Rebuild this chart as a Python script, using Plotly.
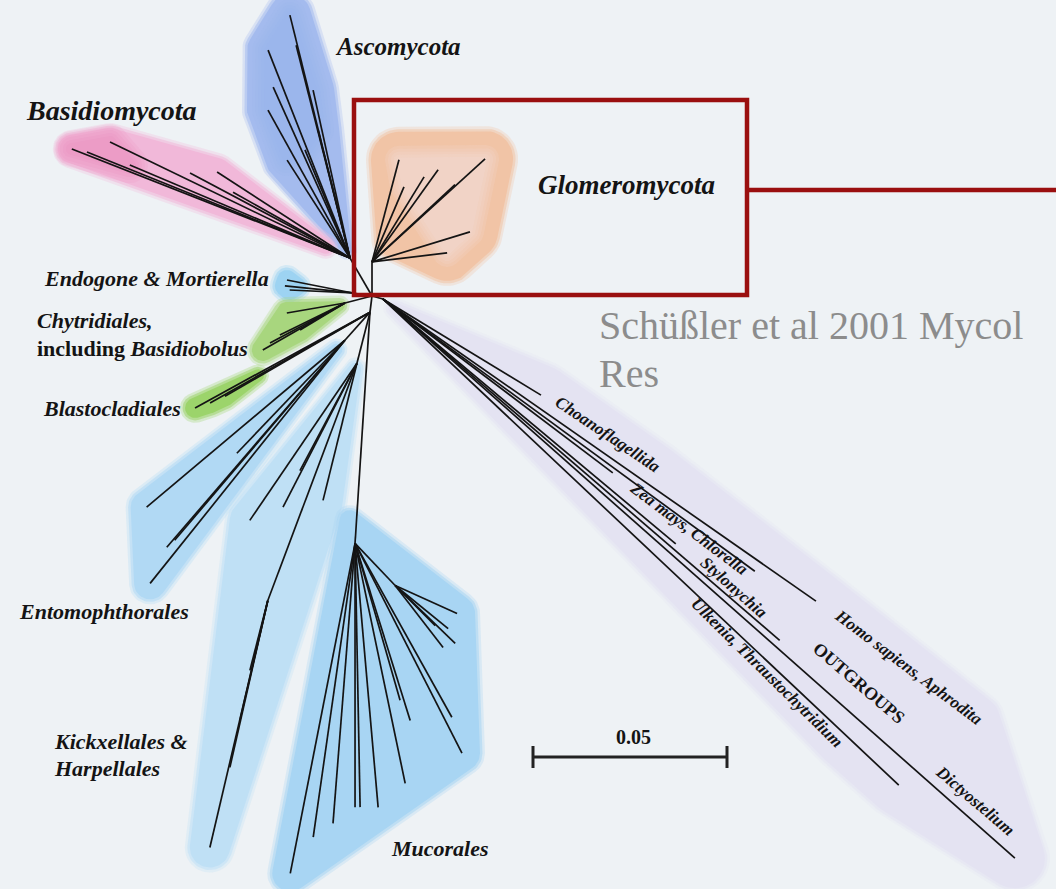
import re
import numpy as np
import plotly.graph_objects as go

# ---------------- data (branch angles in degrees, lengths in substitutions/site) ----------------
SCALE_BAR_VALUE = 0.05
SCALE_BAR_LABEL = "0.05"

NODE_ID = ["hub", "dikarya", "glomero", "endogone", "chytrid", "zygo",
           "entomo", "kickx", "kickx_b", "mucor", "mucor_b", "outgroup"]
NODE_PARENT = [None, "hub", "hub", "hub", "hub", "hub",
               "zygo", "zygo", "kickx", "zygo", "mucor", "hub"]
NODE_ANGLE = [0.0, 120.1, 90.0, 171.0, 194.5, 262.9,
              228.2, 255.7, 249.4, 266.3, 313.6, 344.7]
NODE_LENGTH = [0.0, 0.0113, 0.0088, 0.0050, 0.0072, 0.0042,
               0.0097, 0.0136, 0.0653, 0.0597, 0.0150, 0.0029]

ASCO_ANGLE = [103.9, 104.2, 111.5, 114.2, 119.0, 102.4, 104.0, 112.6, 122.7]
ASCO_LENGTH = [0.0645, 0.0566, 0.0576, 0.0483, 0.0436, 0.0443, 0.0340, 0.0302, 0.0300]

BASI_ANGLE = [158.6, 158.05, 154.2, 157.1, 152.0, 147.1, 150.6]
BASI_LENGTH = [0.0770, 0.0731, 0.0687, 0.0616, 0.0467, 0.0408, 0.0346]

GLOM_ANGLE = [75.2, 66.9, 58.5, 54.3, 42.3, 42.9, 17.0, 6.8]
GLOM_LENGTH = [0.0272, 0.0210, 0.0257, 0.0292, 0.0394, 0.0292, 0.0264, 0.0195]

ENDO_ANGLE = [168.9, 177.3, 174.1]
ENDO_LENGTH = [0.0173, 0.0163, 0.0176]

CHYT_ANGLE = [209.8, 208.1, 189.8, 211.0, 206.2]
CHYT_LENGTH = [0.0244, 0.0219, 0.0152, 0.0135, 0.0187]

BLAS_ANGLE = [208.7, 209.6, 210.1]
BLAS_LENGTH = [0.0514, 0.0474, 0.0432]

ENTO_ANGLE = [220.1, 229.3, 231.3, 226.3, 229.6]
ENTO_LENGTH = [0.0668, 0.0704, 0.0803, 0.0403, 0.0677]

KICK_ANGLE = [235.7, 242.8, 256.1, 242.0]
KICK_LENGTH = [0.0490, 0.0417, 0.0364, 0.0313]
KICK2_ANGLE = [256.8, 257.2, 256.9, 255.6]
KICK2_LENGTH = [0.0654, 0.0441, 0.0318, 0.0186]

MUCO_ANGLE = [258.9, 261.9, 265.5, 270.0, 271.1, 275.0, 281.8, 287.3, 286.0, 299.1, 297.0]
MUCO_LENGTH = [0.0867, 0.0765, 0.0724, 0.0680, 0.0680, 0.0683, 0.0632, 0.0478, 0.0421, 0.0513, 0.0607]
MUCO2_ANGLE = [335.7, 316.0, 307.7, 320.9, 315.0]
MUCO2_LENGTH = [0.0175, 0.0215, 0.0202, 0.0176, 0.0146]

OUTG_ANGLE = [328.7, 322.9, 320.1, 323.8, 325.1, 319.3, 316.7, 318.5]
OUTG_LENGTH = [0.0477, 0.0743, 0.0984, 0.1188, 0.1361, 0.1349, 0.1827, 0.2175]

TIP_GROUPS = {
    "asco": ("dikarya", ASCO_ANGLE, ASCO_LENGTH),
    "basi": ("dikarya", BASI_ANGLE, BASI_LENGTH),
    "glom": ("glomero", GLOM_ANGLE, GLOM_LENGTH),
    "endo": ("endogone", ENDO_ANGLE, ENDO_LENGTH),
    "chyt": ("chytrid", CHYT_ANGLE, CHYT_LENGTH),
    "blas": ("zygo", BLAS_ANGLE, BLAS_LENGTH),
    "ento": ("entomo", ENTO_ANGLE, ENTO_LENGTH),
    "kick": ("kickx", KICK_ANGLE, KICK_LENGTH),
    "kick2": ("kickx_b", KICK2_ANGLE, KICK2_LENGTH),
    "muco": ("mucor", MUCO_ANGLE, MUCO_LENGTH),
    "muco2": ("mucor_b", MUCO2_ANGLE, MUCO2_LENGTH),
    "outg": ("outgroup", OUTG_ANGLE, OUTG_LENGTH),
}

# ---------------- layout / style ----------------
W, H = 1056, 889
BG = "#eef2f5"
PX_PER_UNIT = 194 / SCALE_BAR_VALUE
HUB = np.array([372.0, 296.0])
SERIF = "Liberation Serif"
INK = "#141414"


def step(p, ang, ln):
    a = np.radians(ang)
    return p + ln * PX_PER_UNIT * np.array([np.cos(a), -np.sin(a)])


pos = {}
for nid, par, ang, ln in zip(NODE_ID, NODE_PARENT, NODE_ANGLE, NODE_LENGTH):
    pos[nid] = HUB.copy() if par is None else step(pos[par], ang, ln)

tips = {}
tip_len = {}
for g, (node, angs, lens) in TIP_GROUPS.items():
    tips[g] = [step(pos[node], a, l) for a, l in zip(angs, lens)]
    tip_len[g] = list(lens)


def convex_hull(points):
    pts = sorted(set((round(p[0], 3), round(p[1], 3)) for p in points))

    def cross(o, a, b):
        return (a[0] - o[0]) * (b[1] - o[1]) - (a[1] - o[1]) * (b[0] - o[0])

    lower, upper = [], []
    for p in pts:
        while len(lower) >= 2 and cross(lower[-2], lower[-1], p) <= 0:
            lower.pop()
        lower.append(p)
    for p in reversed(pts):
        while len(upper) >= 2 and cross(upper[-2], upper[-1], p) <= 0:
            upper.pop()
        upper.append(p)
    h = lower[:-1] + upper[:-1]
    return h + [h[0]]


def circle_pts(c, r, n=60):
    t = np.linspace(0, 2 * np.pi, n, endpoint=False)
    return [(c[0] + r * np.cos(a), c[1] + r * np.sin(a)) for a in t]


OUT_LABELS = [
    ("<b><i>Choanoflagellida</i></b>", 608, 434, 17, 34),
    ("<b><i>Zea mays, Chlorella</i></b>", 689, 528, 17, 37),
    ("<b><i>Stylonychia</i></b>", 734, 587, 17, 41.6),
    ("<b><i>Ulkenia, Thraustochytridium</i></b>", 767, 672, 17, 44.5),
    ("<b><i>Homo sapiens, Aphrodita</i></b>", 909, 667, 17, 37),
    ("<b>OUTGROUPS</b>", 859, 683, 18, 40.6),
    ("<b><i>Dictyostelium</i></b>", 975, 800, 17, 40.5),
]


def label_ends(lbls):
    pts = []
    for txt, x, y, s, ang in lbls:
        n = len(re.sub("<[^>]+>", "", txt))
        half = 0.22 * s * n
        a = np.radians(ang)
        d = np.array([np.cos(a), np.sin(a)])
        pts.append(np.array([x, y]) + half * d)
    return pts


# blobs: (groups, start node, start fraction, start radius, tip radius, color, extra points)
BLOBS = [
    (["outg"], "outgroup", 0.03, 6, 30, "#e4e3f2", label_ends(OUT_LABELS)),
    (["asco"], "dikarya", 0.05, 5, 21, "#a4bbee", []),
    (["basi"], "dikarya", 0.12, 7, 14, "#f1b8d9", []),
    (["glom"], "glomero", 0.30, 16, 28, "#f1c4a6", []),
    (["endo"], "endogone", 0.85, 9, 10, "#9dd3f2", []),
    (["chyt"], "chytrid", 0.08, 5, 11, "#a8d67e", []),
    (["blas"], "zygo", 0.70, 6, 10, "#9cd46b", []),
    (["ento"], "entomo", 0.05, 6, 16, "#b1d9f4", []),
    (["kick", "kick2"], "kickx", 0.02, 6, 20, "#bfe0f5", []),
    (["muco", "muco2"], "mucor", -0.12, 10, 18, "#a8d5f3", []),
]

# soft shading accents (groups, min tip length, radius, color, alpha)
ACCENTS = [
    (["basi"], 0.060, 6, "#ea86b8", 0.7),
    (["glom"], 0.0, 2, "#f4dede", 0.8),
    (["asco"], 0.0, 4, "#97afe8", 0.5),
]


def hex_rgba(h, a):
    h = h.lstrip("#")
    return "rgba(%d,%d,%d,%.3f)" % (int(h[0:2], 16), int(h[2:4], 16), int(h[4:6], 16), a)


def add_poly(fig, h, color):
    fig.add_trace(go.Scatter(x=[q[0] for q in h], y=[q[1] for q in h], mode="lines",
                             fill="toself", fillcolor=color, line=dict(width=0),
                             hoverinfo="skip", showlegend=False))


fig = go.Figure()

for groups, node, t, r0, r1, col, extra in BLOBS:
    tp = [p for g in groups for p in tips[g]]
    mean = np.mean(tp, axis=0)
    s = pos[node] + t * (mean - pos[node])
    for grow, alpha in [(5, 0.3), (2.5, 0.55), (0, 1.0)]:
        pts = circle_pts(s, r0 + grow)
        for p in tp:
            pts += circle_pts(p, r1 + grow)
        for p in extra:
            pts += circle_pts(p, 22 + grow)
        add_poly(fig, convex_hull(pts), hex_rgba(col, alpha))

for groups, lmin, r, col, alpha in ACCENTS:
    tp = [p for g in groups for p, l in zip(tips[g], tip_len[g]) if l >= lmin]
    for k in range(5):
        pts = []
        for p in tp:
            pts += circle_pts(p, r + 3 * k)
        add_poly(fig, convex_hull(pts), hex_rgba(col, alpha / 5))

# tree branches
xs, ys = [], []
for nid, par in zip(NODE_ID, NODE_PARENT):
    if par is None:
        continue
    xs += [pos[par][0], pos[nid][0], None]
    ys += [pos[par][1], pos[nid][1], None]
for g, (node, _, _) in TIP_GROUPS.items():
    for p in tips[g]:
        xs += [pos[node][0], p[0], None]
        ys += [pos[node][1], p[1], None]
fig.add_trace(go.Scatter(x=xs, y=ys, mode="lines", line=dict(color=INK, width=1.7),
                         hoverinfo="skip", showlegend=False))

# scale bar
sb_x0, sb_y = 533, 757
sb_x1 = sb_x0 + SCALE_BAR_VALUE * PX_PER_UNIT
fig.add_trace(go.Scatter(x=[sb_x0, sb_x1, None, sb_x0, sb_x0, None, sb_x1, sb_x1],
                         y=[sb_y, sb_y, None, sb_y - 11, sb_y + 11, None, sb_y - 11, sb_y + 11],
                         mode="lines", line=dict(color="#222", width=3),
                         hoverinfo="skip", showlegend=False))

ann = []


def add_label(text, x, y, size, xanchor="left", angle=0, color=INK, family=SERIF):
    ann.append(dict(x=x, y=y, xref="x", yref="y", text=text, showarrow=False,
                    xanchor=xanchor, yanchor="middle", textangle=angle,
                    font=dict(family=family, size=size, color=color)))


add_label("<b><i>Ascomycota</i></b>", 333, 46, 25)
add_label("<b><i>Basidiomycota</i></b>", 24, 110, 28)
add_label("<b><i>Glomeromycota</i></b>", 536, 185, 27)
add_label("<b><i>Endogone &amp; Mortierella</i></b>", 42, 278, 22)
add_label("<b><i>Chytridiales,</i></b>", 35, 320, 22)
add_label("<b>including <i>Basidiobolus</i></b>", 35, 348, 22)
add_label("<b><i>Blastocladiales</i></b>", 41, 408, 22)
add_label("<b><i>Entomophthorales</i></b>", 17, 611, 22)
add_label("<b><i>Kickxellales &amp;</i></b>", 52, 741, 22)
add_label("<b><i>Harpellales</i></b>", 52, 768, 22)
add_label("<b><i>Mucorales</i></b>", 389, 848, 22)
for txt, x, y, s, a in OUT_LABELS:
    add_label(txt, x, y, s, xanchor="center", angle=a)
add_label("<b>" + SCALE_BAR_LABEL + "</b>", 633, 737, 20, xanchor="center")
add_label("Schüßler et al 2001 Mycol", 597, 325, 40, color="#8c8c8c")
add_label("Res", 597, 373, 40, color="#8c8c8c")

fig.update_layout(
    width=W, height=H, margin=dict(l=0, r=0, t=0, b=0),
    paper_bgcolor=BG, plot_bgcolor=BG,
    xaxis=dict(range=[0, W], visible=False, fixedrange=True),
    yaxis=dict(range=[H, 0], visible=False, fixedrange=True),
    annotations=ann,
    shapes=[
        dict(type="rect", xref="x", yref="y", x0=354, y0=100, x1=747, y1=295,
             line=dict(color="#9a0f0f", width=4.5)),
        dict(type="line", xref="x", yref="y", x0=747, y0=190, x1=W, y1=190,
             line=dict(color="#9a0f0f", width=4.5)),
    ],
    showlegend=False,
)

fig.write_html("out.html", config={"displayModeBar": False},
               post_script="document.body.style.margin='0px';document.body.style.background='" + BG + "';")
